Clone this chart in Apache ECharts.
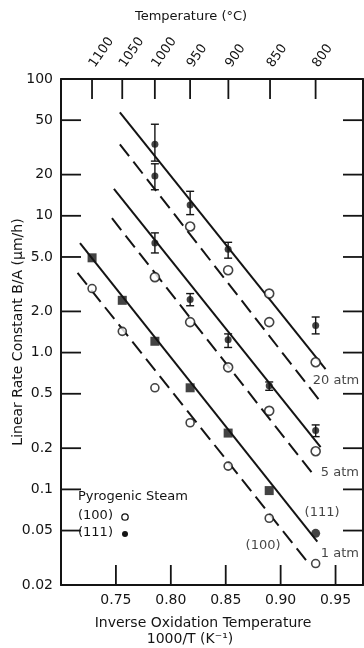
<!DOCTYPE html>
<html>
<head>
<meta charset="utf-8">
<script src="https://cdn.jsdelivr.net/npm/echarts@6/dist/echarts.min.js"></script>
<style>
  html, body { margin: 0; padding: 0; background: #fff; }
  #chart { width: 364px; height: 648px; }
</style>
</head>
<body>
<div id="chart"></div>
<script>
// Oxidation temperatures (°C) and their 1000/T positions (K^-1)
const tempC = [1100, 1050, 1000, 950, 900, 850, 800];
const invT = [0.7283, 0.7558, 0.7855, 0.8176, 0.8522, 0.8896, 0.9319];

// Axis ranges and ticks
const X_MIN = 0.7, X_MAX = 0.975;
const Y_MIN = 0.02, Y_MAX = 100;
const xTicks = [0.75, 0.80, 0.85, 0.90, 0.95];
const yTicks = [0.02, 0.05, 0.1, 0.2, 0.5, 1, 2, 5, 10, 20, 50, 100];
const yTickLabels = ['0.02', '0.05', '0.1', '0.2', '0.5', '1.0', '2.0', '5.0', '10', '20', '50', '100'];

// 1 atm pyrogenic steam, 1100..800 °C (µm/h)
const atm1_111 = [4.93, 2.41, 1.21, 0.553, 0.258, 0.098, 0.0477];
const atm1_100 = [2.94, 1.43, 0.553, 0.307, 0.148, 0.0615, 0.0287];

// 5 atm, 1000..800 °C
const atm5_111 = [6.33, 2.44, 1.24, 0.572, 0.27];
const atm5_100 = [3.56, 1.67, 0.78, 0.375, 0.19];

// 20 atm, [1000/T, B/A]
const atm20_111 = [[0.7855, 33.3], [0.7855, 19.5], [0.8176, 12.0], [0.8522, 5.7], [0.9319, 1.58]];
const atm20_100 = [[0.8176, 8.35], [0.8522, 4.0], [0.8896, 2.7], [0.8896, 1.67], [0.9319, 0.85]];

// Scatter of the high-pressure runs, [1000/T, low, high]
const errorBars = [
  [0.7855, 25.1, 46.7], [0.7855, 15.5, 24.0], [0.8176, 10.2, 15.1], [0.8522, 4.9, 6.4], [0.9319, 1.37, 1.82],
  [0.7855, 5.35, 7.5], [0.8176, 2.2, 2.7], [0.8522, 1.09, 1.37], [0.8896, 0.53, 0.61], [0.9319, 0.243, 0.296]
];

// Fitted lines, two end points each
const fit20_111 = [[0.7536, 56.9], [0.9409, 0.758]];
const fit20_100 = [[0.7536, 33.3], [0.9345, 0.457]];
const fit5_111 = [[0.7482, 15.7], [0.9364, 0.204]];
const fit5_100 = [[0.7464, 9.6], [0.9309, 0.125]];
const fit1_111 = [[0.7173, 6.3], [0.9334, 0.0415]];
const fit1_100 = [[0.7151, 3.83], [0.9243, 0.0296]];

// Curve annotations
const annoText = ['20 atm', '5 atm', '1 atm', '(111)', '(100)'];
const annoX = [0.9504, 0.954, 0.954, 0.9377, 0.884];
const annoY = [0.623, 0.132, 0.0337, 0.0673, 0.0386];

const INK = '#141414';
const FONT = 'DejaVu Sans';
const TICK_LEN = 20;

const chart = echarts.init(document.getElementById('chart'), null, { renderer: 'canvas' });

function fitLine(data, dashed) {
  return {
    type: 'line', data: data, symbol: 'none', silent: true, z: 2,
    lineStyle: { color: INK, width: 2, type: dashed ? [15, 7] : 'solid' }
  };
}

const topTickPos = tempC.map(t => 1000 / (t + 273.15));

const openStyle = { color: '#fff', borderColor: INK, borderWidth: 1.6 };
const fillStyle = { color: INK };

const labelFor = v => {
  const i = yTicks.findIndex(t => Math.abs(t - v) / t < 1e-6);
  return i >= 0 ? yTickLabels[i] : '';
};

const legendGraphics = [
  { id: 'lg-title', type: 'text', left: 78, top: 490, style: { text: 'Pyrogenic Steam', font: '13px "DejaVu Sans"', fill: INK } },
  { id: 'lg-100', type: 'text', left: 78, top: 509, style: { text: '(100)', font: '13px "DejaVu Sans"', fill: INK } },
  { id: 'lg-100-mark', type: 'circle', shape: { cx: 125, cy: 517, r: 3.2 }, style: { fill: '#fff', stroke: INK, lineWidth: 1.3 } },
  { id: 'lg-111', type: 'text', left: 78, top: 526, style: { text: '(111)', font: '13px "DejaVu Sans"', fill: INK } },
  { id: 'lg-111-mark', type: 'circle', shape: { cx: 125, cy: 534, r: 3 }, style: { fill: INK } }
];

const option = {
  animation: false,
  backgroundColor: '#fff',
  textStyle: { fontFamily: FONT, color: INK },
  grid: { left: 61, right: 1, top: 79, bottom: 63, containLabel: false, outerBoundsMode: 'none' },
  xAxis: [
    {
      type: 'value', position: 'bottom', min: X_MIN, max: X_MAX,
      name: '{a|Inverse Oxidation Temperature}\n{b|1000/T (K⁻¹)}',
      nameLocation: 'middle', nameGap: 30,
      nameTextStyle: {
        fontFamily: FONT, color: INK, padding: [0, 18, 0, 0], lineHeight: 16,
        rich: {
          a: { fontFamily: FONT, fontSize: 14, color: INK, lineHeight: 16 },
          b: { fontFamily: FONT, fontSize: 14, color: INK, lineHeight: 16, padding: [0, 26, 0, 0] }
        }
      },
      axisLine: { show: true, onZero: false, lineStyle: { color: INK, width: 2 } },
      axisTick: { show: false },
      axisLabel: { show: true, customValues: xTicks, formatter: v => v.toFixed(2), fontFamily: FONT, fontSize: 14, color: INK, margin: 8 },
      splitLine: { show: false }
    },
    {
      type: 'value', position: 'top', min: X_MIN, max: X_MAX,
      name: 'Temperature (°C)', nameLocation: 'middle', nameGap: 56,
      nameTextStyle: { fontFamily: FONT, fontSize: 13, color: INK, padding: [0, 42, 0, 0] },
      axisLine: { show: true, onZero: false, lineStyle: { color: INK, width: 2 } },
      axisTick: { show: false },
      axisLabel: {
        show: true, customValues: topTickPos, rotate: -55, margin: 13,
        formatter: v => String(Math.round(1000 / v - 273.15)),
        fontFamily: FONT, fontSize: 13, color: INK
      },
      splitLine: { show: false }
    }
  ],
  yAxis: [
    {
      type: 'log', logBase: 10, position: 'left', min: Y_MIN, max: Y_MAX,
      name: 'Linear Rate Constant B/A (µm/h)', nameLocation: 'middle', nameGap: 36, nameRotate: 90,
      nameMoveOverlap: false,
      nameTextStyle: { fontFamily: FONT, fontSize: 14, color: INK },
      axisLine: { show: true, onZero: false, lineStyle: { color: INK, width: 2 } },
      axisTick: { show: false },
      axisLabel: { show: true, customValues: yTicks, formatter: labelFor, fontFamily: FONT, fontSize: 14, color: INK, margin: 8 },
      splitLine: { show: false }
    },
    {
      type: 'log', logBase: 10, position: 'right', min: Y_MIN, max: Y_MAX,
      axisLine: { show: true, onZero: false, lineStyle: { color: INK, width: 2 } },
      axisTick: { show: false },
      axisLabel: { show: false },
      splitLine: { show: false }
    }
  ],
  series: [
    fitLine(fit20_111, false),
    fitLine(fit20_100, true),
    fitLine(fit5_111, false),
    fitLine(fit5_100, true),
    fitLine(fit1_111, false),
    fitLine(fit1_100, true),
    {
      type: 'custom', silent: true, z: 3,
      data: errorBars,
      encode: { x: 0, y: [1, 2] },
      renderItem: function (params, api) {
        const x = api.value(0);
        const lo = api.coord([x, api.value(1)]);
        const hi = api.coord([x, api.value(2)]);
        const cap = 4;
        const style = { stroke: INK, lineWidth: 1.4 };
        return {
          type: 'group',
          children: [
            { type: 'line', shape: { x1: lo[0], y1: lo[1], x2: hi[0], y2: hi[1] }, style: style },
            { type: 'line', shape: { x1: hi[0] - cap, y1: hi[1], x2: hi[0] + cap, y2: hi[1] }, style: style },
            { type: 'line', shape: { x1: lo[0] - cap, y1: lo[1], x2: lo[0] + cap, y2: lo[1] }, style: style }
          ]
        };
      }
    },
    {
      name: '1 atm (111)', type: 'scatter', z: 4, silent: true,
      data: atm1_111.map((v, i) => i === atm1_111.length - 1
        ? { value: [invT[i], v], symbol: 'circle', symbolSize: 9 }
        : { value: [invT[i], v] }),
      symbol: 'rect', symbolSize: 9, itemStyle: fillStyle
    },
    {
      name: '1 atm (100)', type: 'scatter', z: 4, silent: true,
      data: atm1_100.map((v, i) => [invT[i], v]),
      symbol: 'circle', symbolSize: 8, itemStyle: openStyle
    },
    {
      name: '5 atm (111)', type: 'scatter', z: 4, silent: true,
      data: atm5_111.map((v, i) => [invT[i + 2], v]),
      symbol: 'circle', symbolSize: 7, itemStyle: fillStyle
    },
    {
      name: '5 atm (100)', type: 'scatter', z: 4, silent: true,
      data: atm5_100.map((v, i) => [invT[i + 2], v]),
      symbol: 'circle', symbolSize: 9, itemStyle: openStyle
    },
    {
      name: '20 atm (111)', type: 'scatter', z: 4, silent: true,
      data: atm20_111, symbol: 'circle', symbolSize: 7, itemStyle: fillStyle
    },
    {
      name: '20 atm (100)', type: 'scatter', z: 4, silent: true,
      data: atm20_100, symbol: 'circle', symbolSize: 9, itemStyle: openStyle
    },
    {
      name: 'labels', type: 'scatter', z: 5, silent: true,
      symbolSize: 0,
      data: annoText.map((t, i) => ({ name: t, value: [annoX[i], annoY[i]] })),
      label: {
        show: true, position: 'inside', formatter: '{b}',
        fontFamily: FONT, fontSize: 13, color: INK
      }
    }
  ],
  graphic: { elements: legendGraphics }
};

chart.setOption(option);

// Inward tick marks on all four sides of the frame, placed with the chart's own scales
const finder = { xAxisIndex: 0, yAxisIndex: 0 };
const toPx = (x, y) => chart.convertToPixel(finder, [x, y]);
const tickLines = [];
function addTick(id, p, dx, dy) {
  tickLines.push({
    id: id, type: 'line', z: 50, silent: true,
    shape: { x1: p[0], y1: p[1], x2: p[0] + dx, y2: p[1] + dy },
    style: { stroke: INK, lineWidth: 1.8 }
  });
}
yTicks.slice(1, -1).forEach((v, i) => {
  addTick('tl' + i, toPx(X_MIN, v), TICK_LEN, 0);
  addTick('tr' + i, toPx(X_MAX, v), -TICK_LEN, 0);
});
xTicks.forEach((v, i) => addTick('tb' + i, toPx(v, Y_MIN), 0, -TICK_LEN));
topTickPos.forEach((v, i) => addTick('tt' + i, toPx(v, Y_MAX), 0, TICK_LEN));

chart.setOption({ graphic: { elements: legendGraphics.concat(tickLines) } });
</script>
</body>
</html>
